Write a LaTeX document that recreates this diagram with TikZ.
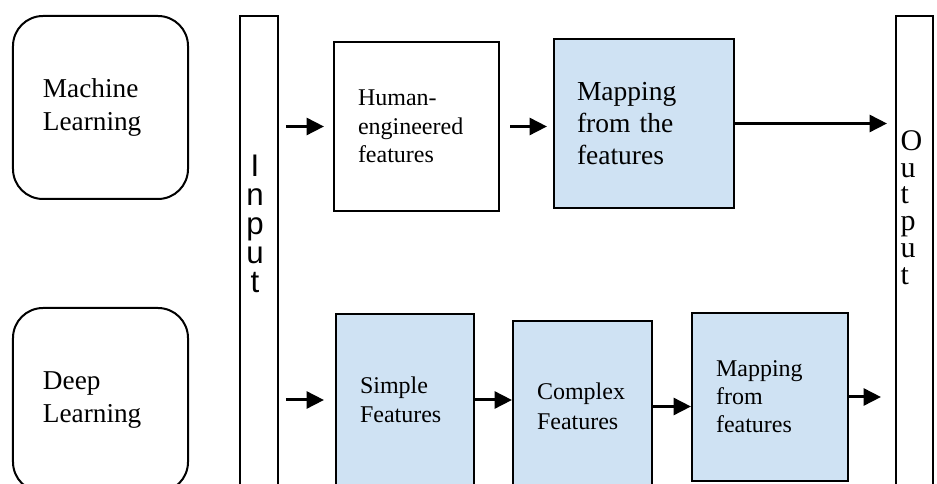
\documentclass[tikz,border=0pt]{standalone}
\usepackage{fontspec}
\setmainfont{Liberation Serif}
\newfontfamily\barfont{Liberation Sans}
\usetikzlibrary{arrows.meta}
\definecolor{boxBlue}{HTML}{CFE2F3}
\colorlet{penColor}{black}
\tikzset{>={Triangle[length=7pt,width=6.8pt]}}
\tikzset{
	roundbox/.style={draw=penColor,line width=0.8pt,rounded corners=12pt,align=left,inner sep=0pt,
		font=\fontsize{10.9}{13.2}\selectfont},
	featbox/.style={draw=penColor,line width=0.8pt,align=left,inner sep=0pt},
	bluebox/.style={featbox,fill=boxBlue},
	bar/.style={draw=penColor,line width=0.8pt,minimum width=15pt,minimum height=190.4pt,inner sep=0pt},
	arr/.style={->,line width=1.2pt,penColor}
}

\begin{document}
\begin{tikzpicture}[x=0.4pt,y=-0.4pt]
				\clip (0,0) rectangle (937,484);
				\node[roundbox,minimum width=70pt,minimum height=73.2pt,text width=46pt] (ml) at (100.5,107.5) {Machine\\Learning};
				\node[roundbox,minimum width=70pt,minimum height=73.6pt,text width=46pt] (dl) at (100.5,400) {Deep\\Learning};
				\node[bar] (inbar) at (259,254) {};% input column
				\node[bar,minimum width=14.8pt] (outbar) at (914.5,254) {};% output column
				\node[anchor=north,inner sep=0pt,align=center,font=\barfont\fontsize{12.5}{11.6}\selectfont] (inlbl) at (255,155) {I\\n\\p\\u\\t};
				\node[anchor=north west,inner sep=0pt,align=left,font=\fontsize{12}{10.7}\selectfont] (outlbl) at (900,130) {O\\u\\t\\p\\u\\t};
				% machine learning row
				\node[featbox,minimum width=66pt,minimum height=67.6pt,text width=46.8pt,font=\fontsize{9.6}{11.4}\selectfont] (he) at (416.5,126.5) {Human-\\engineered\\features};
				\node[bluebox,minimum width=72pt,minimum height=67.6pt,text width=53.6pt,font=\fontsize{11}{12.8}\selectfont] (map) at (644,123.5) {Mapping\\from the\\features};
				% deep learning row
				\node[bluebox,minimum width=55.2pt,minimum height=68.8pt,text width=36pt,font=\fontsize{9.6}{11.6}\selectfont] (sf) at (405,400) {Simple\\Features};
				\node[bluebox,minimum width=55.6pt,minimum height=68.4pt,text width=36.4pt,font=\fontsize{9.6}{12}\selectfont] (cf) at (582.5,406.5) {Complex\\Features};
				\node[bluebox,minimum width=62.4pt,minimum height=67.2pt,text width=43.2pt,font=\fontsize{9.6}{11.2}\selectfont] (mf) at (770,397) {Mapping\\from\\features};
				% arrows
				\draw[arr,shorten <=2.8pt,shorten >=3.6pt] (inbar.east |- he.west) -- (he.west);
				\draw[arr,shorten <=4pt,shorten >=2.4pt] (he.east) -- (map.west |- he.east);
				\draw[arr,shorten >=3.2pt] (map.east) -- (outbar.west |- map.east);
				\draw[arr,shorten <=2.8pt,shorten >=4.4pt] (inbar.east |- sf.west) -- (sf.west);
				\draw[arr] (sf.east) -- (cf.west |- sf.east);
				\draw[arr] (cf.east) -- (mf.west |- cf.east);
				\draw[arr,shorten >=5.6pt] (mf.east) -- (outbar.west |- mf.east);
				\end{tikzpicture}
\end{document}
